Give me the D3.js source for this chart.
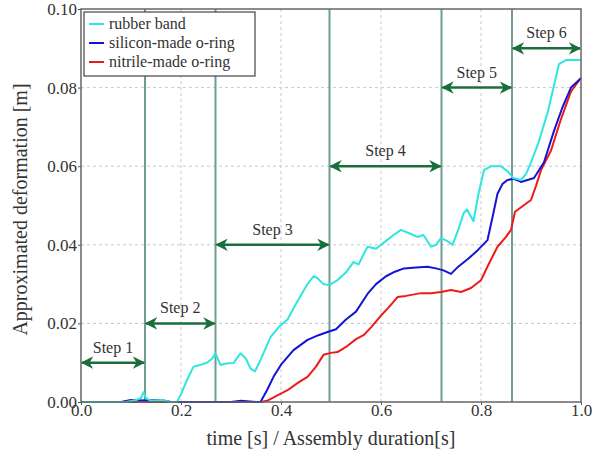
<!DOCTYPE html>
<html>
<head>
<meta charset="utf-8">
<script src="https://cdn.jsdelivr.net/npm/d3@7"></script>
<style>
  body { margin: 0; background: #fff; }
  svg text { font-family: "Liberation Serif", "DejaVu Serif", serif !important; fill: #333; }
</style>
</head>
<body>
<div id="chart"></div>
<script>
// series values: [time fraction, deformation m]
var rubberBand = [
  [0, 0], [0.09, 0], [0.11, 0.0005], [0.12, 0.001], [0.125, 0.0025], [0.13, 0.001], [0.14, 0.0003],
  [0.16, 0.0005], [0.18, 0], [0.192, 0], [0.2, 0.002], [0.212, 0.0056], [0.225, 0.009], [0.24, 0.0095],
  [0.252, 0.010], [0.262, 0.011], [0.269, 0.0124], [0.279, 0.0094], [0.29, 0.0098], [0.305, 0.0099],
  [0.319, 0.0124], [0.33, 0.011], [0.339, 0.0085], [0.348, 0.0078], [0.359, 0.0107], [0.379, 0.0165],
  [0.395, 0.019], [0.413, 0.021], [0.43, 0.025], [0.453, 0.030], [0.465, 0.032], [0.473, 0.0315],
  [0.485, 0.030], [0.493, 0.0298], [0.5, 0.030], [0.513, 0.031], [0.53, 0.033], [0.545, 0.0356],
  [0.555, 0.035], [0.573, 0.0395], [0.59, 0.039], [0.61, 0.041], [0.625, 0.0425], [0.64, 0.0438],
  [0.655, 0.043], [0.673, 0.042], [0.685, 0.0425], [0.70, 0.0395], [0.71, 0.040], [0.72, 0.0417],
  [0.732, 0.041], [0.743, 0.040], [0.755, 0.044], [0.765, 0.048], [0.772, 0.049], [0.785, 0.046],
  [0.795, 0.053], [0.806, 0.059], [0.82, 0.060], [0.84, 0.060], [0.855, 0.0585], [0.864, 0.057],
  [0.88, 0.0565], [0.89, 0.058], [0.90, 0.061], [0.915, 0.066], [0.934, 0.074], [0.945, 0.080],
  [0.956, 0.086], [0.97, 0.087], [1.0, 0.087]
];
var siliconRing = [
  [0, 0], [0.08, 0], [0.10, 0.0005], [0.13, 0.0004], [0.16, 0.0005], [0.18, 0], [0.30, 0],
  [0.32, 0.0003], [0.35, 0], [0.359, 0], [0.372, 0.003], [0.385, 0.0064], [0.40, 0.0095],
  [0.425, 0.0132], [0.453, 0.0158], [0.475, 0.017], [0.493, 0.0178], [0.51, 0.0185], [0.53, 0.021],
  [0.55, 0.023], [0.573, 0.0275], [0.59, 0.030], [0.61, 0.032], [0.625, 0.033], [0.646, 0.034],
  [0.67, 0.0342], [0.693, 0.0344], [0.71, 0.034], [0.725, 0.0335], [0.74, 0.0326], [0.755, 0.0345],
  [0.775, 0.0365], [0.794, 0.0387], [0.813, 0.0412], [0.823, 0.047], [0.833, 0.053], [0.843, 0.0555],
  [0.853, 0.0565], [0.865, 0.0568], [0.88, 0.056], [0.893, 0.0565], [0.906, 0.057], [0.926, 0.061],
  [0.946, 0.069], [0.963, 0.075], [0.98, 0.080], [1.0, 0.0824]
];
var nitrileRing = [
  [0, 0], [0.36, 0], [0.372, 0.0003], [0.39, 0.0015], [0.413, 0.003], [0.435, 0.005], [0.453, 0.0064],
  [0.47, 0.009], [0.485, 0.012], [0.50, 0.0125], [0.513, 0.0127], [0.53, 0.014], [0.55, 0.016],
  [0.565, 0.017], [0.58, 0.019], [0.60, 0.022], [0.615, 0.024], [0.633, 0.0267], [0.65, 0.027],
  [0.68, 0.0277], [0.70, 0.0277], [0.72, 0.028], [0.74, 0.0285], [0.76, 0.028], [0.78, 0.029],
  [0.80, 0.031], [0.815, 0.035], [0.833, 0.0395], [0.85, 0.042], [0.86, 0.0438], [0.868, 0.0484],
  [0.885, 0.050], [0.90, 0.0514], [0.91, 0.055], [0.92, 0.059], [0.94, 0.064], [0.96, 0.072],
  [0.98, 0.079], [1.0, 0.0825]
];
var seriesNames = ["rubber band", "silicon-made o-ring", "nitrile-made o-ring"];
var seriesColors = ["#2ee6e0", "#1414d4", "#ee1a1a"];

// assembly steps: boundaries and arrow heights
var stepNames = ["Step 1", "Step 2", "Step 3", "Step 4", "Step 5", "Step 6"];
var stepStart = [0, 0.128, 0.269, 0.497, 0.721, 0.862];
var stepEnd = [0.128, 0.269, 0.497, 0.721, 0.862, 1.0];
var stepLevel = [0.01, 0.02, 0.04, 0.06, 0.08, 0.09];

var xTicks = [0, 0.2, 0.4, 0.6, 0.8, 1.0];
var yTicks = [0, 0.02, 0.04, 0.06, 0.08, 0.10];

var margin = {top: 9, right: 20, bottom: 49, left: 81},
    width = 601 - margin.left - margin.right,
    height = 451 - margin.top - margin.bottom;

var svg = d3.select("#chart").append("svg")
  .attr("width", 601)
  .attr("height", 451);

var chartArea = svg.append("g")
  .attr("transform", "translate(" + margin.left + "," + margin.top + ")");

var x = d3.scaleLinear().domain([0, 1]).range([0, width]);
var y = d3.scaleLinear().domain([0, 0.1]).range([height, 0]);

// dashed grid
chartArea.append("g").selectAll("line")
  .data(xTicks.slice(1, -1)).enter().append("line")
  .attr("x1", function(d) { return x(d); })
  .attr("x2", function(d) { return x(d); })
  .attr("y1", 0).attr("y2", height)
  .attr("stroke", "#c8c8c8").attr("stroke-dasharray", "3,3").attr("stroke-width", 1);
chartArea.append("g").selectAll("line")
  .data(yTicks.slice(1, -1)).enter().append("line")
  .attr("y1", function(d) { return y(d); })
  .attr("y2", function(d) { return y(d); })
  .attr("x1", 0).attr("x2", width)
  .attr("stroke", "#c8c8c8").attr("stroke-dasharray", "3,3").attr("stroke-width", 1);

// step boundary lines
chartArea.append("g").selectAll("line")
  .data(stepStart.slice(1)).enter().append("line")
  .attr("x1", function(d) { return x(d); })
  .attr("x2", function(d) { return x(d); })
  .attr("y1", 0).attr("y2", height)
  .attr("stroke", "#6f9e90").attr("stroke-width", 2);

// arrow marker
var defs = svg.append("defs");
defs.append("marker")
  .attr("id", "arr")
  .attr("viewBox", "0 0 10 10")
  .attr("refX", 9).attr("refY", 5)
  .attr("markerWidth", 5).attr("markerHeight", 5)
  .attr("markerUnits", "strokeWidth")
  .attr("orient", "auto-start-reverse")
  .append("path").attr("d", "M0,0 L10,5 L0,10 L3,5 Z").attr("fill", "#1a6e3c");

var steps = chartArea.append("g").selectAll("g")
  .data(stepNames).enter().append("g");
steps.append("line")
  .attr("x1", function(d, i) { return x(stepStart[i]) + 1; })
  .attr("x2", function(d, i) { return x(stepEnd[i]) - 1; })
  .attr("y1", function(d, i) { return y(stepLevel[i]); })
  .attr("y2", function(d, i) { return y(stepLevel[i]); })
  .attr("stroke", "#1a6e3c").attr("stroke-width", 2.5)
  .attr("marker-start", "url(#arr)")
  .attr("marker-end", "url(#arr)");
steps.append("text")
  .attr("x", function(d, i) { return x((stepStart[i] + stepEnd[i]) / 2); })
  .attr("y", function(d, i) { return y(stepLevel[i]) - 10; })
  .attr("text-anchor", "middle")
  .attr("font-size", 16)
  .text(function(d) { return d; });

// curves
var line = d3.line()
  .x(function(d) { return x(d[0]); })
  .y(function(d) { return y(d[1]); });
var allSeries = [rubberBand, siliconRing, nitrileRing];
[2, 1, 0].forEach(function(i) {
  chartArea.append("path")
    .datum(allSeries[i])
    .attr("d", line)
    .attr("fill", "none")
    .attr("stroke", seriesColors[i])
    .attr("stroke-width", 2)
    .attr("stroke-linejoin", "round");
});

// axes
var xAxis = d3.axisBottom(x).tickValues(xTicks).tickFormat(d3.format(".1f")).tickSize(3);
var yAxis = d3.axisLeft(y).tickValues(yTicks).tickFormat(d3.format(".2f")).tickSize(3);
var gx = chartArea.append("g").attr("transform", "translate(0," + height + ")").call(xAxis);
var gy = chartArea.append("g").call(yAxis);
[gx, gy].forEach(function(g) {
  g.attr("font-family", null);
  g.select(".domain").remove();
  g.selectAll("line").attr("stroke", "#555");
  g.selectAll("text").attr("font-size", 17).attr("fill", "#333");
});
gx.selectAll("text").attr("y", 1).attr("dy", "0.75em");
gy.selectAll("text").attr("dx", "2px");

// frame
chartArea.append("rect")
  .attr("width", width).attr("height", height)
  .attr("fill", "none").attr("stroke", "#666").attr("stroke-width", 1.5);

// axis labels
svg.append("text")
  .attr("x", margin.left + width / 2)
  .attr("y", 445)
  .attr("text-anchor", "middle")
  .attr("font-size", 20)
  .text("time [s] / Assembly duration[s]");
svg.append("text")
  .attr("transform", "translate(27," + (margin.top + height / 2 + 4) + ") rotate(-90)")
  .attr("text-anchor", "middle")
  .attr("font-size", 20)
  .text("Approximated deformation [m]");

// legend
var legend = chartArea.append("g").attr("transform", "translate(3,3)");
legend.append("rect")
  .attr("width", 171).attr("height", 64)
  .attr("fill", "#fff").attr("stroke", "#444").attr("stroke-width", 1.2);
seriesNames.forEach(function(name, i) {
  var row = legend.append("g").attr("transform", "translate(0," + (12 + i * 19) + ")");
  row.append("line")
    .attr("x1", 5).attr("x2", 20)
    .attr("stroke", seriesColors[i]).attr("stroke-width", 2);
  row.append("text")
    .attr("x", 25).attr("dy", "0.32em")
    .attr("font-size", 16)
    .text(name);
});
</script>
</body>
</html>
